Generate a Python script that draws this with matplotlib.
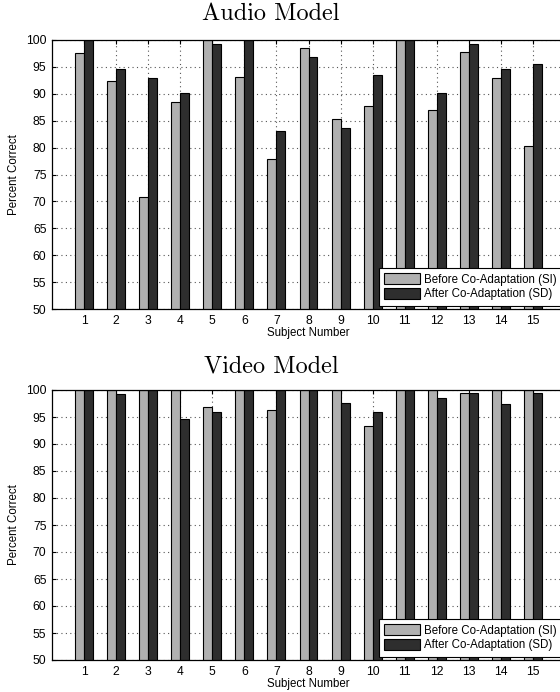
import matplotlib
matplotlib.use("Agg")
import matplotlib.pyplot as plt
import numpy as np

subjects = list(range(1, 16))
audio_before = [97.6, 92.3, 70.8, 88.5, 100, 93.1, 77.8, 98.5, 85.3, 87.7, 100, 87.0, 97.7, 93.0, 80.3]
audio_after = [100, 94.6, 93.0, 90.1, 99.3, 100, 83.1, 96.8, 83.7, 93.5, 100, 90.2, 99.3, 94.7, 95.5]
video_before = [100, 100, 100, 100, 96.8, 100, 96.3, 100, 100, 93.4, 100, 100, 99.4, 100, 100]
video_after = [100, 99.3, 100, 94.7, 96.0, 100, 100, 100, 97.6, 96.0, 100, 98.5, 99.4, 97.5, 99.4]
yticks = [50, 55, 60, 65, 70, 75, 80, 85, 90, 95, 100]
legend_labels = ["Before Co-Adaptation (SI)", "After Co-Adaptation (SD)"]
titles = ["Audio Model", "Video Model"]

plt.rcParams['font.family'] = ['Liberation Sans', 'DejaVu Sans']

fig = plt.figure(figsize=(5.6, 6.92), dpi=100)
W, H = 560.0, 692.0
left, right = 52, 565
panels = [
    (40, 309, audio_before, audio_after, titles[0], 14),
    (390, 660, video_before, video_after, titles[1], 366),
]
bw = 0.28
x = np.array(subjects)
for top, bot, b, a, title, ty in panels:
    ax = fig.add_axes([left / W, 1 - bot / H, (right - left) / W, (bot - top) / H])
    ax.set_axisbelow(True)
    ax.bar(x - bw / 2, b, width=bw, color="#b0b0b0", edgecolor="black", linewidth=0.8,
           label=legend_labels[0])
    ax.bar(x + bw / 2, a, width=bw, color="#2e2e2e", edgecolor="black", linewidth=0.8,
           label=legend_labels[1])
    ax.set_xlim(0, 16)
    ax.set_ylim(50, 100)
    ax.set_xticks(subjects)
    ax.set_yticks(yticks)
    ax.tick_params(direction="in", top=True, right=True, length=3, width=0.8,
                   labelsize=8.7, pad=4)
    ax.grid(True, linestyle=(0, (1, 3)), color="#555555", linewidth=0.8)
    ax.set_xlabel("Subject Number", fontsize=8.3, labelpad=0)
    ax.set_ylabel("Percent Correct", fontsize=8.3, labelpad=4)
    for s in ax.spines.values():
        s.set_linewidth(0.9)
    leg = ax.legend(loc="lower right", fontsize=8.3, fancybox=False, edgecolor="black",
                    framealpha=1, borderaxespad=0.3, handlelength=3.1, handleheight=1.05,
                    borderpad=0.45, labelspacing=0.2, handletextpad=0.35)
    leg.get_frame().set_linewidth(0.8)
    fig.text(271 / W, 1 - ty / H, title, ha="center", va="center", fontsize=17.5,
             family="cmr10")

fig.savefig("out.png", dpi=100)
